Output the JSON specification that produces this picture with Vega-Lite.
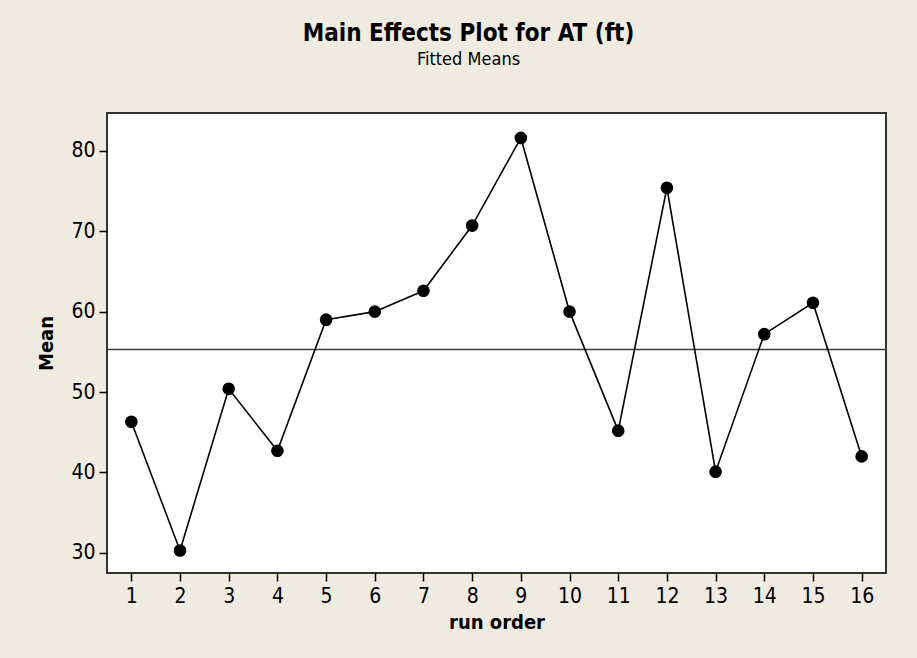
{
  "$schema": "https://vega.github.io/schema/vega-lite/v6.json",
  "width": 779,
  "height": 460,
  "autosize": {"type": "none"},
  "padding": {"left": 107, "top": 113, "right": 31, "bottom": 85},
  "background": "#EFEBE1",
  "title": {
    "text": "Main Effects Plot for AT (ft)",
    "subtitle": "Fitted Means",
    "anchor": "middle",
    "dx": -28,
    "offset": 44,
    "font": "Liberation Sans Narrow, DejaVu Sans Condensed",
    "fontSize": 24,
    "fontWeight": "bold",
    "color": "#000000",
    "subtitleFont": "Liberation Sans Narrow, DejaVu Sans Condensed",
    "subtitleFontSize": 18,
    "subtitleColor": "#000000",
    "subtitlePadding": 5
  },
  "config": {
    "view": {"stroke": "#333333", "strokeWidth": 2, "fill": "#FFFFFF"},
    "axis": {
      "domain": false,
      "grid": false,
      "ticks": true,
      "tickColor": "#000000",
      "tickWidth": 1.5,
      "tickSize": 8,
      "labelFont": "DejaVu Sans Condensed",
      "labelFontSize": 21,
      "labelColor": "#000000",
      "labelPadding": 4,
      "titleFont": "DejaVu Sans Condensed",
      "titleFontSize": 20,
      "titleFontWeight": "bold",
      "titleColor": "#000000"
    }
  },
  "data": {
    "values": [
      {"run": 1, "mean": 46.3},
      {"run": 2, "mean": 30.3},
      {"run": 3, "mean": 50.4},
      {"run": 4, "mean": 42.7},
      {"run": 5, "mean": 59.0},
      {"run": 6, "mean": 60.0},
      {"run": 7, "mean": 62.6},
      {"run": 8, "mean": 70.7},
      {"run": 9, "mean": 81.6},
      {"run": 10, "mean": 60.0},
      {"run": 11, "mean": 45.2},
      {"run": 12, "mean": 75.4},
      {"run": 13, "mean": 40.1},
      {"run": 14, "mean": 57.2},
      {"run": 15, "mean": 61.1},
      {"run": 16, "mean": 42.0}
    ]
  },
  "layer": [
    {
      "mark": {"type": "rule", "color": "#3A3A3A", "strokeWidth": 1.5},
      "encoding": {
        "y": {"aggregate": "mean", "field": "mean", "type": "quantitative"}
      }
    },
    {
      "mark": {"type": "line", "color": "#000000", "strokeWidth": 1.6},
      "encoding": {
        "x": {
          "field": "run", "type": "quantitative",
          "scale": {"domain": [0.5, 16.5], "nice": false, "zero": false},
          "axis": {"values": [1,2,3,4,5,6,7,8,9,10,11,12,13,14,15,16], "title": "run order", "titlePadding": 6, "labelFlush": false}
        },
        "y": {
          "field": "mean", "type": "quantitative",
          "scale": {"domain": [27.5, 84.7], "nice": false, "zero": false},
          "axis": {"values": [30,40,50,60,70,80], "title": "Mean", "titlePadding": 14, "labelFlush": false}
        }
      }
    },
    {
      "mark": {"type": "point", "filled": true, "color": "#000000", "size": 160, "opacity": 1},
      "encoding": {
        "x": {"field": "run", "type": "quantitative"},
        "y": {"field": "mean", "type": "quantitative"}
      }
    }
  ]
}
